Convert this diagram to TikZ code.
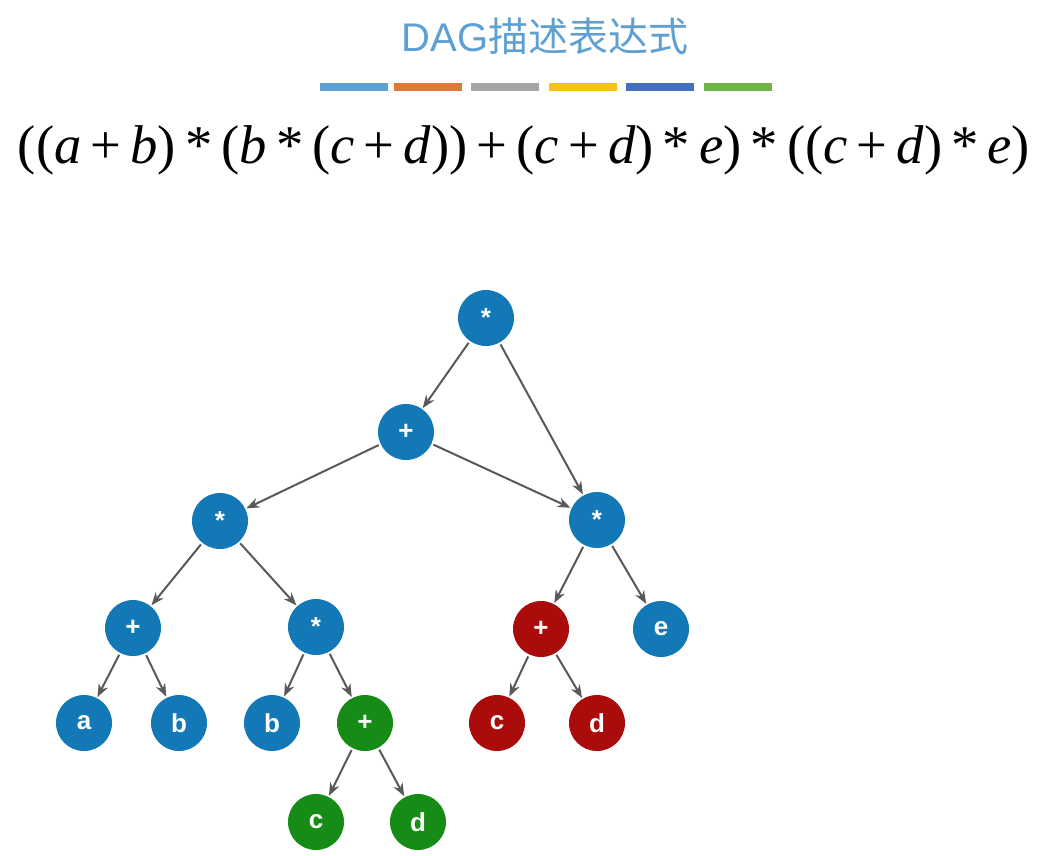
\documentclass[tikz,border=0pt]{standalone}
\usepackage{fontspec}
\setmainfont{Liberation Serif}
\setsansfont{Liberation Sans}
\newfontfamily\cjk{Noto Sans CJK SC}
\usetikzlibrary{arrows.meta}
\definecolor{nb}{RGB}{18,121,182}
\definecolor{nr}{RGB}{170,12,12}
\definecolor{ng}{RGB}{22,140,22}
\definecolor{tb}{RGB}{95,160,210}
\definecolor{c1}{RGB}{95,160,210}
\definecolor{c2}{RGB}{225,120,55}
\definecolor{c3}{RGB}{165,165,165}
\definecolor{c4}{RGB}{245,195,20}
\definecolor{c5}{RGB}{70,110,190}
\definecolor{c6}{RGB}{110,180,70}
\newcommand{\vi}[1]{\textit{#1}}
\newcommand{\pl}{\,+\,}
\newcommand{\st}{\,*\,}
\begin{document}
\begin{tikzpicture}[x=1pt,y=-1pt,
  nd/.style={circle,minimum size=56pt,inner sep=0pt,fill=nb,text=white,font=\sffamily\bfseries\fontsize{26}{26}\selectfont},
  red/.style={fill=nr},grn/.style={fill=ng},
  ed/.style={draw=black!65,line width=2pt,-{Stealth[length=13pt,width=10pt]},shorten <=2pt,shorten >=1pt}]
\useasboundingbox (0,0) rectangle (1039,855);
\node[text=tb,font=\fontsize{40}{40}\selectfont] (title) at (545,36) {\sffamily DAG\cjk 描述表达式};
\foreach \x/\c in {320/c1,394/c2,471/c3,549/c4,626/c5,704/c6}
  \fill[\c] (\x,83) rectangle ++(68,8);
\node (f) at (524,150) {\resizebox{1012pt}{!}{((\vi{a}\pl\vi{b})\st(\vi{b}\st(\vi{c}\pl\vi{d}))\pl(\vi{c}\pl\vi{d})\st\vi{e})\st((\vi{c}\pl\vi{d})\st\vi{e})}};
\node[nd] (r) at (486,318) {*};
\node[nd] (p) at (406,432) {+};
\node[nd] (m1) at (220,521) {*};
\node[nd] (m2) at (597,520) {*};
\node[nd] (p1) at (133,628) {+};
\node[nd] (m3) at (316,627) {*};
\node[nd,red] (p2) at (541,629) {+};
\node[nd] (e) at (661,629) {e};
\node[nd] (a) at (84,723) {a};
\node[nd] (b1) at (179,723) {b};
\node[nd] (b2) at (272,723) {b};
\node[nd,grn] (p3) at (365,723) {+};
\node[nd,red] (c1) at (497,723) {c};
\node[nd,red] (d1) at (597,723) {d};
\node[nd,grn] (c2) at (316,822) {c};
\node[nd,grn] (d2) at (418,822) {d};
\foreach \s/\t in {r/p,r/m2,p/m1,p/m2,m1/p1,m1/m3,m2/p2,m2/e,p1/a,p1/b1,m3/b2,m3/p3,p2/c1,p2/d1,p3/c2,p3/d2}
  \draw[ed] (\s) -- (\t);
\end{tikzpicture}
\end{document}
